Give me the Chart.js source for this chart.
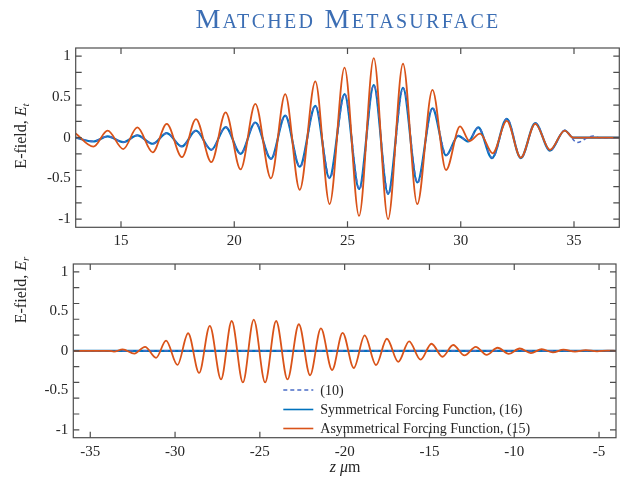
<!DOCTYPE html>
<html>
<head>
<meta charset="utf-8">
<script src="https://cdn.jsdelivr.net/npm/chart.js@4.4.0/dist/chart.umd.min.js"></script>
<style>
  body { margin: 0; background: #fff; width: 628px; height: 478px; position: relative; overflow: hidden; }
  canvas { position: absolute; left: 0; }
  #title {
    position: absolute; left: 76px; width: 544px; top: 3px; z-index: 2;
    text-align: center; font-family: "Liberation Serif", "DejaVu Serif", serif;
    font-variant: small-caps; font-size: 28px; letter-spacing: 2.3px; color: #3c6eb4;
  }
</style>
</head>
<body>
<div id="title">Matched Metasurface</div>
<canvas id="topChart" width="628" height="250" style="top:0"></canvas>
<canvas id="bottomChart" width="628" height="228" style="top:250px"></canvas>
<script>
const serif = '"Liberation Serif", "DejaVu Serif", serif';
const ink = '#262626';
const frameColor = '#4d4d4d';

const colEq10 = '#4a6cc6';
const colSym = '#0072bd';
const colAsym = '#d95319';

const seriesNames = ['(10)', 'Symmetrical Forcing Function, (16)', 'Asymmetrical Forcing Function, (15)'];

// tick values
const yTickLabels = [-1, -0.5, 0, 0.5, 1];
const yTickMarks = [-1, -0.8, -0.6, -0.4, -0.2, 0, 0.2, 0.4, 0.6, 0.8, 1];
const xTicksT = [15, 20, 25, 30, 35];
const xTicksR = [-35, -30, -25, -20, -15, -10, -5];

// transmitted field E_t (peaks and troughs along z)
const zT_eq10 = [13.00, 13.78, 14.41, 15.10, 15.72, 16.40, 17.02, 17.69, 18.31, 18.99, 19.62, 20.28, 20.93, 21.63,
  22.25, 22.91, 23.58, 24.23, 24.88, 25.53, 26.16, 26.81, 27.46, 28.10, 28.76, 29.37, 29.89, 30.33, 30.78, 31.40,
  32.04, 32.66, 33.30, 33.95, 34.59, 35.14, 35.60, 35.85, 36.10, 37.00];
const eT_eq10 = [0.0, -0.045, 0.016, -0.055, 0.028, -0.075, 0.055, -0.108, 0.086, -0.148, 0.13, -0.198, 0.186, -0.262,
  0.27, -0.36, 0.39, -0.50, 0.535, -0.635, 0.645, -0.695, 0.61, -0.555, 0.365, -0.215, 0.025, -0.045, 0.125, -0.25,
  0.235, -0.25, 0.178, -0.16, 0.09, -0.06, 0.0, 0.02, 0.0, 0.0];

const zT_sym = [13.00, 13.78, 14.41, 15.10, 15.72, 16.40, 17.02, 17.69, 18.31, 18.99, 19.62, 20.28, 20.93, 21.62,
  22.25, 22.89, 23.58, 24.20, 24.87, 25.51, 26.16, 26.79, 27.45, 28.08, 28.75, 29.35, 29.89, 30.33, 30.77, 31.38,
  32.03, 32.65, 33.29, 33.94, 34.59, 34.97, 37.00];
const eT_sym = [0.0, -0.047, 0.015, -0.055, 0.027, -0.075, 0.055, -0.108, 0.085, -0.149, 0.13, -0.198, 0.186, -0.26,
  0.27, -0.357, 0.39, -0.497, 0.534, -0.63, 0.645, -0.69, 0.61, -0.55, 0.36, -0.218, 0.023, -0.047, 0.125, -0.25,
  0.232, -0.25, 0.178, -0.16, 0.088, 0.0, 0.0];

const zT_asym = [13.00, 13.78, 14.41, 15.10, 15.72, 16.40, 17.02, 17.69, 18.31, 18.99, 19.62, 20.28, 20.93, 21.62,
  22.25, 22.89, 23.58, 24.21, 24.87, 25.51, 26.16, 26.79, 27.45, 28.08, 28.75, 29.35, 29.97, 30.38, 30.85, 31.41,
  32.03, 32.65, 33.29, 33.94, 34.59, 34.97, 37.00];
const eT_asym = [0.05, -0.11, 0.085, -0.14, 0.125, -0.18, 0.17, -0.24, 0.227, -0.30, 0.31, -0.39, 0.415, -0.50,
  0.535, -0.64, 0.69, -0.815, 0.86, -0.96, 0.975, -1.0, 0.907, -0.816, 0.585, -0.397, 0.138, -0.04, 0.049, -0.192,
  0.205, -0.245, 0.17, -0.15, 0.087, 0.0, 0.0];

// reflected field E_r
const zR_eq10 = [-36, -4];
const eR_eq10 = [0, 0];
const zR_sym = [-36, -4];
const eR_sym = [0, 0];
const zR_asym = [-36, -33.9, -33.6, -33.09, -32.40, -31.77, -31.12, -30.53, -29.86, -29.23, -28.58, -27.95, -27.29,
  -26.66, -26.00, -25.36, -24.69, -24.04, -23.37, -22.70, -22.04, -21.40, -20.74, -20.12, -19.46, -18.82, -18.15,
  -17.51, -16.84, -16.20, -15.52, -14.88, -14.23, -13.60, -12.93, -12.27, -11.63, -10.98, -10.32, -9.68, -9.02,
  -8.38, -7.72, -7.10, -6.42, -5.78, -5.12, -4.51, -4.0];
const eR_asym = [0, 0, -0.01, 0.018, -0.035, 0.051, -0.088, 0.129, -0.178, 0.223, -0.28, 0.317, -0.362,
  0.378, -0.399, 0.395, -0.399, 0.378, -0.362, 0.337, -0.309, 0.284, -0.243, 0.228, -0.217, 0.195, -0.18,
  0.153, -0.14, 0.12, -0.112, 0.09, -0.075, 0.074, -0.058, 0.05, -0.05, 0.039, -0.038, 0.03, -0.028,
  0.022, -0.02, 0.015, -0.011, 0.009, -0.006, 0.004, 0];

function toPoints(xs, ys) {
  return xs.map((x, i) => ({ x: x, y: ys[i] }));
}

function makeDatasets(z10, e10, zs, es, za, ea) {
  const common = { pointRadius: 0, fill: false, cubicInterpolationMode: 'monotone' };
  return [
    Object.assign({ label: seriesNames[0], data: toPoints(z10, e10), borderColor: colEq10, borderWidth: 1.5,
      borderDash: [4, 3], order: 1 }, common),
    Object.assign({ label: seriesNames[1], data: toPoints(zs, es), borderColor: colSym, borderWidth: 2.2,
      order: 2 }, common),
    Object.assign({ label: seriesNames[2], data: toPoints(za, ea), borderColor: colAsym, borderWidth: 1.8,
      order: 0 }, common)
  ];
}

function drawRich(ctx, parts, cx, cy, rotated) {
  ctx.save();
  ctx.translate(cx, cy);
  if (rotated) ctx.rotate(-Math.PI / 2);
  ctx.fillStyle = ink;
  ctx.textBaseline = 'alphabetic';
  let total = 0;
  parts.forEach(p => { ctx.font = p.font; total += ctx.measureText(p.text).width; });
  let x = -total / 2;
  parts.forEach(p => {
    ctx.font = p.font;
    ctx.fillText(p.text, x, 5 + (p.dy || 0));
    x += ctx.measureText(p.text).width;
  });
  ctx.restore();
}

// box round the axes with inward ticks on all four sides
const frame = {
  id: 'frame',
  afterDraw(chart, args, opts) {
    const { ctx, chartArea: a, scales } = chart;
    const len = 6;
    ctx.save();
    ctx.strokeStyle = frameColor;
    ctx.lineWidth = 1.2;
    ctx.strokeRect(a.left, a.top, a.right - a.left, a.bottom - a.top);
    ctx.beginPath();
    yTickMarks.forEach(v => {
      const py = scales.y.getPixelForValue(v);
      ctx.moveTo(a.left, py); ctx.lineTo(a.left + len, py);
      ctx.moveTo(a.right, py); ctx.lineTo(a.right - len, py);
    });
    opts.xMarks.forEach(v => {
      const px = scales.x.getPixelForValue(v);
      ctx.moveTo(px, a.top); ctx.lineTo(px, a.top + len);
      ctx.moveTo(px, a.bottom); ctx.lineTo(px, a.bottom - len);
    });
    ctx.stroke();
    ctx.restore();
  }
};

const axisText = {
  id: 'axisText',
  afterDraw(chart, args, opts) {
    const ctx = chart.ctx;
    if (opts.yParts) drawRich(ctx, opts.yParts, opts.yAt[0], opts.yAt[1], true);
    if (opts.xParts) drawRich(ctx, opts.xParts, opts.xAt[0], opts.xAt[1], false);
  }
};

// legend sitting inside the lower axes
const insideLegend = {
  id: 'insideLegend',
  afterDraw(chart) {
    const { ctx, chartArea: a } = chart;
    const x0 = a.left + 210, lineLen = 30, rowY = [a.top + 126, a.top + 145.5, a.top + 164.5];
    ctx.save();
    chart.data.datasets.forEach((ds, i) => {
      ctx.strokeStyle = ds.borderColor;
      ctx.lineWidth = Math.min(ds.borderWidth, 1.6);
      ctx.setLineDash(ds.borderDash || []);
      ctx.beginPath();
      ctx.moveTo(x0, rowY[i]);
      ctx.lineTo(x0 + lineLen, rowY[i]);
      ctx.stroke();
      ctx.setLineDash([]);
      ctx.fillStyle = ink;
      ctx.font = '14px ' + serif;
      ctx.textBaseline = 'middle';
      ctx.fillText(ds.label, x0 + lineLen + 7, rowY[i] + 1);
    });
    ctx.restore();
  }
};

function makeScales(xMin, xMax, xTicks, yWidth, xHeight) {
  const tickFont = { family: serif, size: 15 };
  return {
    x: {
      type: 'linear', min: xMin, max: xMax,
      afterBuildTicks: axis => { axis.ticks = xTicks.map(v => ({ value: v })); },
      afterFit: axis => { axis.height = xHeight; },
      grid: { display: false, drawTicks: false },
      border: { display: false },
      ticks: { font: tickFont, color: ink, padding: 5, maxRotation: 0, callback: v => String(v) }
    },
    y: {
      type: 'linear', min: -1.1, max: 1.1,
      afterBuildTicks: axis => { axis.ticks = yTickLabels.map(v => ({ value: v })); },
      afterFit: axis => { axis.width = yWidth; },
      grid: { display: false, drawTicks: false },
      border: { display: false },
      ticks: { font: tickFont, color: ink, padding: 5, callback: v => String(v) }
    }
  };
}

const labelFont = '16px ' + serif;
const labelItalic = 'italic 16px ' + serif;
const subFont = 'italic 11px ' + serif;

new Chart(document.getElementById('topChart'), {
  type: 'line',
  data: { datasets: makeDatasets(zT_eq10, eT_eq10, zT_sym, eT_sym, zT_asym, eT_asym) },
  options: {
    responsive: false,
    animation: false,
    layout: { padding: { top: 48, right: 8.7, left: 0, bottom: 0 } },
    scales: makeScales(13, 37, xTicksT, 75.7, 22.7),
    plugins: {
      legend: { display: false },
      tooltip: { enabled: false },
      frame: { xMarks: xTicksT },
      axisText: {
        yParts: [{ text: 'E-field, ', font: labelFont }, { text: 'E', font: labelItalic }, { text: 't', font: subFont, dy: 3 }],
        yAt: [21, 136]
      }
    }
  },
  plugins: [frame, axisText]
});

new Chart(document.getElementById('bottomChart'), {
  type: 'line',
  data: { datasets: makeDatasets(zR_eq10, eR_eq10, zR_sym, eR_sym, zR_asym, eR_asym) },
  options: {
    responsive: false,
    animation: false,
    layout: { padding: { top: 9, right: 12, left: 0, bottom: 0 } },
    scales: makeScales(-36, -4, xTicksR, 73.3, 40.3),
    plugins: {
      legend: { display: false },
      tooltip: { enabled: false },
      frame: { xMarks: xTicksR },
      axisText: {
        yParts: [{ text: 'E-field, ', font: labelFont }, { text: 'E', font: labelItalic }, { text: 'r', font: subFont, dy: 3 }],
        yAt: [21, 40],
        xParts: [{ text: 'z', font: labelItalic }, { text: ' ', font: labelFont }, { text: 'μ', font: labelItalic }, { text: 'm', font: labelFont }],
        xAt: [345, 217]
      }
    }
  },
  plugins: [frame, axisText, insideLegend]
});
</script>
</body>
</html>
